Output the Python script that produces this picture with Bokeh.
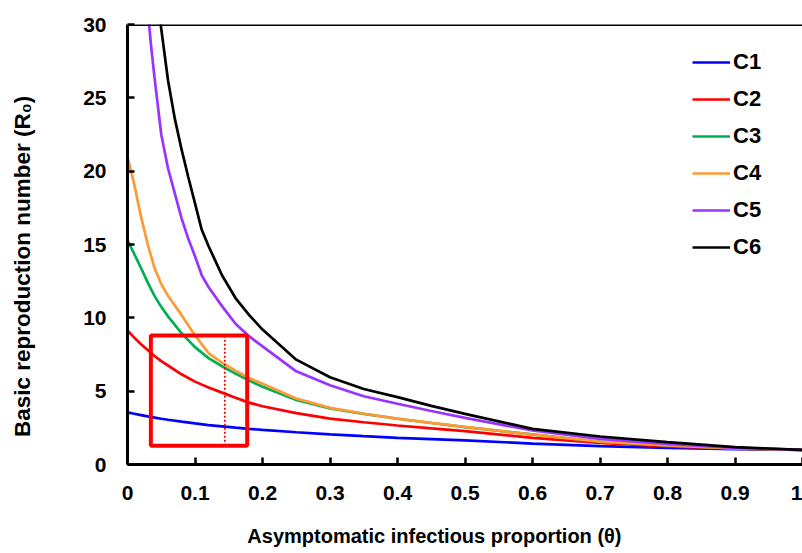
import numpy as np
from bokeh.plotting import figure
from bokeh.models import (Range1d, FixedTicker, CustomJSTickFormatter, Legend,
                          LegendItem, Span)
from bokeh.embed import file_html
from bokeh.resources import INLINE

# ---------------- data ----------------
theta = [0, 0.01, 0.02, 0.03, 0.04, 0.05, 0.06, 0.08, 0.10, 0.12, 0.14, 0.16,
         0.18, 0.20, 0.25, 0.30, 0.35, 0.40, 0.45, 0.50, 0.60, 0.70, 0.80,
         0.90, 1.00]
c1 = [3.55, 3.46, 3.37, 3.28, 3.20, 3.12, 3.05, 2.92, 2.80, 2.69, 2.60, 2.51,
      2.43, 2.36, 2.20, 2.06, 1.93, 1.82, 1.73, 1.64, 1.43, 1.25, 1.13, 1.05, 1.0]
c2 = [9.15, 8.65, 8.20, 7.80, 7.40, 7.05, 6.75, 6.15, 5.65, 5.25, 4.90, 4.55,
      4.22, 3.97, 3.50, 3.13, 2.88, 2.66, 2.46, 2.27, 1.82, 1.47, 1.24, 1.08, 1.0]
c3 = [15.3, 14.35, 13.4, 12.4, 11.5, 10.75, 10.1, 8.95, 8.0, 7.25, 6.70, 6.20,
      5.72, 5.30, 4.40, 3.82, 3.45, 3.12, 2.83, 2.55, 2.05, 1.55, 1.30, 1.10, 1.0]
c4 = [21.0, 19.1, 16.9, 15.0, 13.4, 12.3, 11.5, 10.2, 8.80, 7.60, 6.95, 6.40,
      5.90, 5.50, 4.50, 3.86, 3.46, 3.13, 2.84, 2.56, 2.04, 1.56, 1.31, 1.10, 1.0]
theta_c5 = [0.03, 0.035, 0.04, 0.05, 0.06, 0.07, 0.08, 0.09, 0.10, 0.11, 0.12,
            0.14, 0.16, 0.18, 0.20, 0.25, 0.30, 0.35, 0.40, 0.45, 0.50, 0.60,
            0.70, 0.80, 0.90, 1.00]
c5 = [31.0, 28.5, 26.4, 22.5, 20.2, 18.5, 16.8, 15.4, 14.2, 12.9, 12.1, 10.8,
      9.6, 8.75, 8.05, 6.35, 5.40, 4.65, 4.14, 3.65, 3.18, 2.32, 1.75, 1.41,
      1.14, 1.0]
theta_c6 = [0.045, 0.05, 0.06, 0.07, 0.08, 0.09, 0.10, 0.11, 0.12, 0.13, 0.14,
            0.16, 0.18, 0.20, 0.25, 0.30, 0.35, 0.40, 0.45, 0.50, 0.60, 0.70,
            0.80, 0.90, 1.00]
c6 = [31.5, 29.7, 26.2, 23.6, 21.5, 19.6, 17.8, 16.0, 14.9, 13.9, 12.9, 11.35,
      10.2, 9.2, 7.15, 5.95, 5.15, 4.59, 4.0, 3.45, 2.43, 1.91, 1.52, 1.18, 1.0]

series_names = ["C1", "C2", "C3", "C4", "C5", "C6"]
x_ticks = [0, 0.1, 0.2, 0.3, 0.4, 0.5, 0.6, 0.7, 0.8, 0.9, 1.0]
y_ticks = [0, 5, 10, 15, 20, 25, 30]
x_title = "Asymptomatic infectious proportion (θ)"
y_title = "Basic reproduction number (R₀)"

# highlighted region (red box) and dotted marker
box_left, box_right, box_bottom, box_top = 0.0346, 0.1773, 1.27, 8.80
marker_theta = 0.1442

# ---------------- styles ----------------
FONT = "Liberation Sans"
colors = ["#0000ff", "#ff0000", "#00b050", "#ff9933", "#9933ff", "#000000"]
NBSP = "\u00a0"   # padding used to shift the centred axis titles

p = figure(width=802, height=553, output_backend="svg", toolbar_location=None,
           x_range=Range1d(0, 1), y_range=Range1d(0, 30),
           min_border_left=127, min_border_top=24, min_border_right=0,
           min_border_bottom=89)
p.grid.visible = False
p.outline_line_color = None
p.background_fill_color = "white"

xs = [theta, theta, theta, theta, theta_c5, theta_c6]
ys = [c1, c2, c3, c4, c5, c6]
renderers = []
for x, y, col in zip(xs, ys, colors):
    r = p.line(x, y, line_color=col, line_width=2.7)
    renderers.append(r)

# red box and dotted line
p.quad(left=[box_left], right=[box_right], bottom=[box_bottom], top=[box_top],
       fill_color=None, line_color="#ff0000", line_width=4)
p.line([marker_theta, marker_theta], [box_bottom, box_top], line_color="#ff0000",
       line_width=1.8, line_dash="2 2")

# top border
p.add_layout(Span(location=30, dimension="width", line_color="black", line_width=3))

for ax in (p.xaxis, p.yaxis):
    ax.axis_line_width = 3
    ax.axis_line_color = "black"
    ax.major_tick_line_width = 2.5
    ax.major_tick_in = 7
    ax.major_tick_out = 0
    ax.minor_tick_line_color = None
    ax.major_label_text_font = FONT
    ax.major_label_text_font_style = "bold"
    ax.major_label_text_font_size = "21px"
    ax.major_label_text_color = "black"
    ax.axis_label_text_font = FONT
    ax.axis_label_text_font_style = "bold"
    ax.axis_label_text_color = "black"

p.xaxis.ticker = FixedTicker(ticks=x_ticks)
p.yaxis.ticker = FixedTicker(ticks=y_ticks)
p.xaxis.formatter = CustomJSTickFormatter(
    code="return tick.toFixed(1).replace(/\\.0$/, '');")
p.xaxis.major_label_standoff = 21
p.yaxis.major_label_standoff = 21

p.xaxis.axis_label = x_title + NBSP * 11
p.xaxis.axis_label_text_font_size = "20px"
p.xaxis.axis_label_standoff = 22
p.yaxis.axis_label = y_title + NBSP * 7
p.yaxis.axis_label_text_font_size = "22.5px"
p.yaxis.axis_label_standoff = 45

# legend
items = [LegendItem(label=n, renderers=[r]) for n, r in zip(series_names, renderers)]
legend = Legend(items=items, location=(565, 204), orientation="vertical",
                label_text_font=FONT, label_text_font_style="bold",
                label_text_font_size="22px", label_text_color="black",
                glyph_width=38, glyph_height=20, label_height=20,
                label_standoff=3, spacing=11, padding=0, margin=0,
                border_line_color=None, background_fill_alpha=0)
p.add_layout(legend)

open("out.html", "w").write(file_html(p, INLINE))
